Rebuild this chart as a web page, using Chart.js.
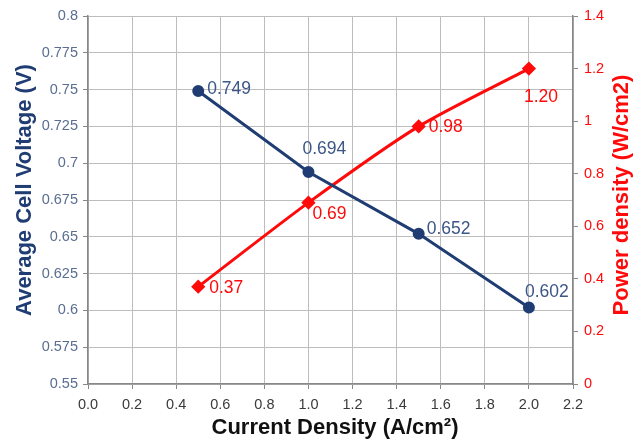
<!DOCTYPE html>
<html>
<head>
<meta charset="utf-8">
<script src="https://cdn.jsdelivr.net/npm/chart.js@4"></script>
<style>
  html, body { margin: 0; padding: 0; background: #fff; }
  #wrap { width: 644px; height: 443px; }
</style>
</head>
<body>
<div id="wrap"><canvas id="myChart"></canvas></div>
<script>
// 데이터
const currentDensity = [0.5, 1.0, 1.5, 2.0];
const cellVoltage = [0.749, 0.694, 0.652, 0.602];
const powerDensity = [0.37, 0.69, 0.98, 1.20];
const voltageLabels = ['0.749', '0.694', '0.652', '0.602'];
const powerLabels = ['0.37', '0.69', '0.98', '1.20'];

const BLUE = '#1f3d73';
const BLUE_TXT = '#3b5687';
const RED = '#ff0a0a';
const FONT = '"Liberation Sans", Arial, sans-serif';

// 점 옆에 값 표시 (위치 오프셋만 지정)
const voltOffsets = [[9, -2, 'left'], [-6, -23, 'left'], [8, -5, 'left'], [-4, -15, 'left']];
const powerOffsets = [[11, 1, 'left'], [4, 12, 'left'], [10, 1, 'left'], [-5, 29, 'left']];

const labelPlugin = {
  id: 'pointLabels',
  afterDatasetsDraw(chart) {
    const ctx = chart.ctx;
    ctx.save();
    ctx.font = '17.5px ' + FONT;
    ctx.textBaseline = 'middle';
    const sets = [[0, voltageLabels, voltOffsets, BLUE_TXT], [1, powerLabels, powerOffsets, RED]];
    sets.forEach(([idx, labels, offs, col]) => {
      const meta = chart.getDatasetMeta(idx);
      meta.data.forEach((pt, i) => {
        ctx.fillStyle = col;
        ctx.textAlign = offs[i][2];
        ctx.fillText(labels[i], pt.x + offs[i][0], pt.y + offs[i][1]);
      });
    });

    // 축 제목 (오른쪽 제목도 아래에서 위로 읽히게)
    ctx.font = 'bold 22px ' + FONT;
    ctx.textAlign = 'center';
    ctx.fillStyle = '#111';
    ctx.fillText('Current Density (A/cm²)', 335, 428);

    ctx.save();
    ctx.translate(25, 190);
    ctx.rotate(-Math.PI / 2);
    ctx.fillStyle = BLUE;
    ctx.fillText('Average Cell Voltage (V)', 0, 0);
    ctx.restore();

    ctx.save();
    ctx.translate(622, 195);
    ctx.rotate(-Math.PI / 2);
    ctx.fillStyle = RED;
    ctx.fillText('Power density (W/cm2)', 0, 0);
    ctx.restore();

    ctx.restore();
  }
};

const ctx = document.getElementById('myChart');

new Chart(ctx, {
  type: 'line',
  data: {
    datasets: [{
      label: 'voltage',
      data: currentDensity.map((x, i) => ({ x: x, y: cellVoltage[i] })),
      yAxisID: 'y',
      borderColor: BLUE,
      backgroundColor: BLUE,
      borderWidth: 3,
      pointRadius: 4.5,
      pointStyle: 'circle',
      tension: 0
    }, {
      label: 'power',
      data: currentDensity.map((x, i) => ({ x: x, y: powerDensity[i] })),
      yAxisID: 'y1',
      borderColor: RED,
      backgroundColor: RED,
      borderWidth: 3,
      pointRadius: 5,
      pointStyle: 'rectRot',
      tension: 0.25
    }]
  },
  options: {
    responsive: true,
    maintainAspectRatio: false,
    animation: false,
    layout: { padding: { top: 16, left: 0, right: 0, bottom: 0 } },
    plugins: {
      legend: { display: false },
      tooltip: { enabled: false }
    },
    scales: {
      x: {
        type: 'linear',
        min: 0, max: 2.2,
        ticks: {
          stepSize: 0.2,
          color: '#3a3a3a',
          font: { size: 14.5, family: FONT },
          callback: v => v.toFixed(1),
          padding: 7
        },
        grid: { color: '#bdbdbd', tickLength: 5, tickColor: '#888' },
        border: { color: '#888', width: 1.5 },
        afterFit: s => { s.height = 59; }
      },
      y: {
        position: 'left',
        min: 0.55, max: 0.8,
        ticks: {
          stepSize: 0.025,
          color: '#5a6e91',
          font: { size: 14.5, family: FONT },
          callback: v => String(+v.toFixed(3)),
          padding: 5
        },
        grid: { color: '#bdbdbd', tickLength: 5, tickColor: '#888' },
        border: { color: '#888', width: 1.5 },
        afterFit: s => { s.width = 88; }
      },
      y1: {
        position: 'right',
        min: 0, max: 1.4,
        ticks: {
          stepSize: 0.2,
          color: RED,
          font: { size: 14.5, family: FONT },
          callback: v => String(+v.toFixed(1)),
          padding: 6
        },
        grid: { drawOnChartArea: false, tickLength: 5, tickColor: '#888' },
        border: { color: '#888', width: 1.5 },
        afterFit: s => { s.width = 71; }
      }
    }
  },
  plugins: [labelPlugin]
});
</script>
</body>
</html>
